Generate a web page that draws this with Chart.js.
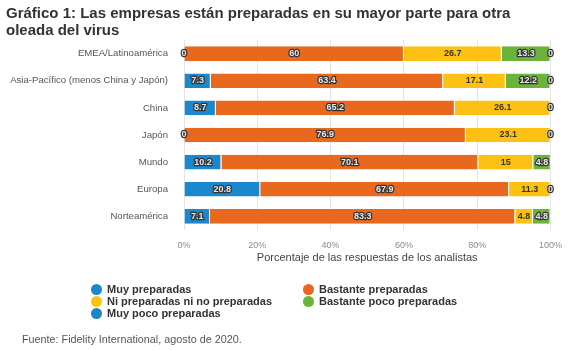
<!DOCTYPE html>
<html>
<head>
<meta charset="utf-8">
<script src="https://cdn.jsdelivr.net/npm/chart.js@4/dist/chart.umd.min.js"></script>
<style>
  body { margin: 0; background: #fff; font-family: "Liberation Sans", Arial, sans-serif; }
  #wrap { position: relative; width: 572px; height: 350px; overflow: hidden; }
  #chart { position: absolute; left: 0; top: 0; }
  .title { position: absolute; left: 6px; top: 4px; font-weight: bold; font-size: 15px; line-height: 17px; color: #333; }
  .legend { position: absolute; top: 283px; font-size: 11px; font-weight: bold; color: #333; line-height: 12px; }
  .legend div { display: flex; align-items: center; white-space: nowrap; }
  .legend span.dot { display: inline-block; width: 11px; height: 11px; border-radius: 50%; margin-right: 5px; }
  .source { position: absolute; left: 22px; top: 333px; font-size: 10.8px; color: #555; }
</style>
</head>
<body>
<div id="wrap">
  <canvas id="chart" width="572" height="350"></canvas>
  <div class="title">Gráfico 1: Las empresas están preparadas en su mayor parte para otra<br>oleada del virus</div>
  <div class="legend" id="legCol1" style="left:91px"></div>
  <div class="legend" id="legCol2" style="left:303px"></div>
  <div class="source">Fuente: Fidelity International, agosto de 2020.</div>
</div>
<script>
const regions = ['EMEA/Latinoamérica', 'Asia-Pacífico (menos China y Japón)', 'China', 'Japón', 'Mundo', 'Europa', 'Norteamérica'];
const muyPreparadas = [0, 7.3, 8.7, 0, 10.2, 20.8, 7.1];
const bastantePreparadas = [60, 63.4, 65.2, 76.9, 70.1, 67.9, 83.3];
const niNi = [26.7, 17.1, 26.1, 23.1, 15, 11.3, 4.8];
const bastantePoco = [13.3, 12.2, 0, 0, 4.8, 0, 4.8];
const muyPoco = [0, 0, 0, 0, 0, 0, 0];
const seriesNames = ['Muy preparadas', 'Bastante preparadas', 'Ni preparadas ni no preparadas', 'Bastante poco preparadas', 'Muy poco preparadas'];
const seriesColors = ['#1b87cc', '#e8681e', '#fdc113', '#6cb33b', '#1f86c4'];
const xTicks = [0, 20, 40, 60, 80, 100];

const seriesData = [muyPreparadas, bastantePreparadas, niNi, bastantePoco, muyPoco];

// legend: two columns like the original
const legendCols = [[0, 2, 4], [1, 3]];
legendCols.forEach((idxs, c) => {
    const col = document.getElementById('legCol' + (c + 1));
    idxs.forEach(i => {
        const row = document.createElement('div');
        row.innerHTML = `<span class="dot" style="background:${seriesColors[i]}"></span>${seriesNames[i]}`;
        col.appendChild(row);
    });
});

const barLabels = {
    id: 'barLabels',
    afterDatasetsDraw(chart) {
        const ctx = chart.ctx;
        ctx.save();
        ctx.font = 'bold 9px "Liberation Sans", Arial, sans-serif';
        ctx.textAlign = 'center';
        ctx.textBaseline = 'middle';
        ctx.lineJoin = 'round';
        const placed = {};
        chart.data.datasets.forEach((ds, di) => {
            chart.getDatasetMeta(di).data.forEach((bar, i) => {
                const x = (bar.x + bar.base) / 2;
                const text = String(ds.data[i]);
                const w = ctx.measureText(text).width + 4;
                // skip labels that would sit on top of one already drawn in this row
                const row = placed[i] || (placed[i] = []);
                if (row.some(r => x - w / 2 < r[1] && x + w / 2 > r[0])) return;
                row.push([x - w / 2, x + w / 2]);
                if (di === 2) {
                    ctx.fillStyle = '#333';
                    ctx.fillText(text, x, bar.y);
                } else {
                    ctx.strokeStyle = '#333';
                    ctx.lineWidth = 2.5;
                    ctx.strokeText(text, x, bar.y);
                    ctx.fillStyle = '#e8e8e8';
                    ctx.fillText(text, x, bar.y);
                }
            });
        });
        ctx.restore();
    }
};

new Chart(document.getElementById('chart'), {
    type: 'bar',
    data: {
        labels: regions,
        datasets: seriesData.map((d, i) => ({
            label: seriesNames[i],
            data: d,
            backgroundColor: seriesColors[i],
            borderColor: '#ffffff',
            borderWidth: { right: 1, left: 0, top: 0, bottom: 0 },
            borderSkipped: false,
            categoryPercentage: 1,
            barPercentage: 0.54,
        })),
    },
    options: {
        indexAxis: 'y',
        responsive: false,
        animation: false,
        layout: { padding: { left: 4, right: 17, top: 40, bottom: 85 } },
        plugins: {
            legend: { display: false },
            tooltip: { enabled: false },
        },
        scales: {
            x: {
                stacked: true,
                min: 0,
                max: 100,
                afterBuildTicks: s => { s.ticks = xTicks.map(v => ({ value: v })); },
                afterFit: s => { s.height = 35; },
                grid: { color: '#e4e4e4', drawTicks: false },
                border: { display: false },
                ticks: {
                    padding: 10,
                    color: '#8a8a8a',
                    font: { size: 9, family: '"Liberation Sans", Arial, sans-serif' },
                    callback: v => v + '%',
                },
                title: {
                    display: true,
                    text: 'Porcentaje de las respuestas de los analistas',
                    color: '#444',
                    padding: { top: 0, bottom: 0 },
                    font: { size: 11, family: '"Liberation Sans", Arial, sans-serif' },
                },
            },
            y: {
                stacked: true,
                afterFit: s => { s.width = 180; },
                grid: { display: false },
                border: { display: false },
                ticks: {
                    padding: 8,
                    color: '#555',
                    font: { size: 9.6, family: '"Liberation Sans", Arial, sans-serif' },
                },
            },
        },
    },
    plugins: [barLabels],
});
</script>
</body>
</html>
